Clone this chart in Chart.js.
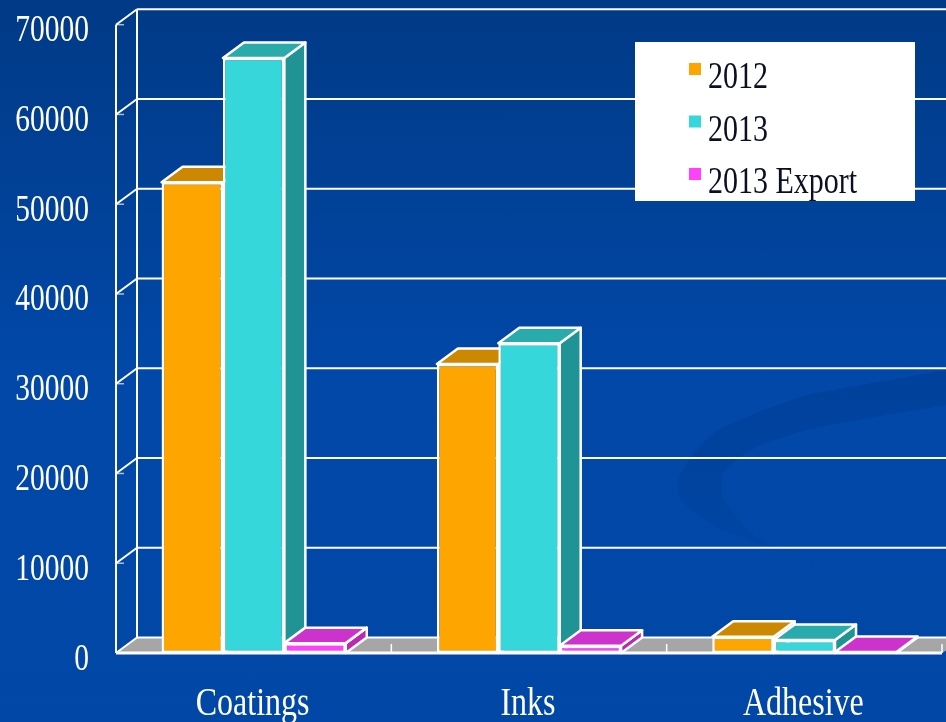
<!DOCTYPE html>
<html>
<head>
<meta charset="utf-8">
<title>Coatings, Inks, Adhesive</title>
<script src="https://cdn.jsdelivr.net/npm/chart.js@4"></script>
<style>
    html, body { margin: 0; padding: 0; width: 946px; height: 722px; overflow: hidden; }
    body { background: linear-gradient(to bottom, #013a86 0%, #0148a8 52%, #0047a6 100%); position: relative; }
    #swoosh { position: absolute; left: 0; top: 0; }
    #chart { position: absolute; left: 0; top: 0; }
</style>
</head>
<body>
<svg id="swoosh" width="946" height="722">
    <defs>
        <linearGradient id="fade" x1="0" y1="0" x2="0" y2="1">
            <stop offset="0" stop-color="#00419b"/>
            <stop offset="1" stop-color="#0046a4"/>
        </linearGradient>
    </defs>
    <path fill="url(#fade)" d="M946 370 C880 382 830 390 807 395 C770 407 735 420 713 433 C695 450 680 468 678 483 C678 495 680 500 683 503 C695 515 710 524 723 530 C750 542 775 549 790 553 L840 570 C810 560 790 555 773 547 C755 537 745 528 737 517 C728 506 722 500 722 493 C721 485 722 478 723 473 C730 463 745 453 757 447 C780 437 810 428 840 423 L946 405 Z"/>
</svg>
<canvas id="chart" width="946" height="722"></canvas>
<script>
const categories = ['Coatings', 'Inks', 'Adhesive'];
const seriesNames = ['2012', '2013', '2013 Export'];
const values2012 = [52450, 32200, 1800];
const values2013 = [66300, 34500, 1450];
const valuesExport = [1100, 800, 100];
const yTicks = [0, 10000, 20000, 30000, 40000, 50000, 60000, 70000];

// depth of the fake 3D box, in pixels
const DX = 21;
const DY = 15.5;

const FRONT = ['#ffa500', '#36d7da', '#ff40ff'];
const TOP = ['#cc8800', '#2aabab', '#cc33cc'];
const SIDE = ['#b87a00', '#209494', '#b82bb0'];
const SERIF = '"Liberation Serif", "Times New Roman", serif';

function poly(ctx, pts, fill, stroke, width) {
    ctx.beginPath();
    pts.forEach((p, i) => i ? ctx.lineTo(p[0], p[1]) : ctx.moveTo(p[0], p[1]));
    ctx.closePath();
    if (fill) { ctx.fillStyle = fill; ctx.fill(); }
    if (stroke) { ctx.strokeStyle = stroke; ctx.lineWidth = width; ctx.lineJoin = 'round'; ctx.stroke(); }
}

function line(ctx, x1, y1, x2, y2, color, width) {
    ctx.beginPath();
    ctx.moveTo(x1, y1);
    ctx.lineTo(x2, y2);
    ctx.strokeStyle = color;
    ctx.lineWidth = width;
    ctx.stroke();
}

// the original type is taller than it is wide, so it gets stretched vertically
function tallText(ctx, text, x, baseline, size, align, color) {
    ctx.save();
    ctx.translate(x, baseline);
    ctx.scale(1, 1.25);
    ctx.font = size + 'px ' + SERIF;
    ctx.textAlign = align;
    ctx.textBaseline = 'alphabetic';
    ctx.fillStyle = color;
    ctx.fillText(text, 0, 0);
    ctx.restore();
}

const wallsPlugin = {
    id: 'walls',
    beforeDatasetsDraw(chart) {
        const { ctx, chartArea: area, scales: { x, y } } = chart;
        const base = y.getPixelForValue(0);
        ctx.save();
        // floor, back wall, left wall and gridlines
        poly(ctx, [[area.left, base], [area.left + DX, base - DY], [946 + DX, base - DY], [area.right, base]], '#a6a6a6');
        yTicks.forEach(t => {
            const py = y.getPixelForValue(t);
            line(ctx, area.left + DX, py - DY, 946, py - DY, '#ffffff', 2);
            line(ctx, area.left, py, area.left + DX, py - DY, '#ffffff', 2);
            if (t > 0) line(ctx, area.left, py, area.left + 8, py, 'rgba(255,255,255,0.65)', 1.5);
        });
        line(ctx, area.left, y.getPixelForValue(70000), area.left, base, '#ffffff', 2);
        line(ctx, area.left + DX, y.getPixelForValue(70000) - DY, area.left + DX, base - DY, '#ffffff', 2);
        line(ctx, area.left, base, area.right, base, '#ffffff', 3);
        // little separators between the categories
        categories.forEach((c, i) => {
            const px = x.getPixelForValue(i) + (x.getPixelForValue(1) - x.getPixelForValue(0)) / 2;
            line(ctx, px, base - 9, px, base, '#ffffff', 1.5);
        });
        // bars left to right so each front covers the previous bar's top and side
        chart.data.datasets.forEach((ds, i) => {
            chart.getDatasetMeta(i).data.forEach(bar => {
                const { x: bx, y: by, base: bb, width } = bar.getProps(['x', 'y', 'base', 'width'], true);
                const l = bx - width / 2;
                const r = bx + width / 2;
                poly(ctx, [[r, by], [r + DX, by - DY], [r + DX, bb - DY], [r, bb]], SIDE[i], '#ffffff', 2.5);
                poly(ctx, [[l, by], [l + DX, by - DY], [r + DX, by - DY], [r, by]], TOP[i], '#ffffff', 2.5);
                bar.draw(ctx, area);
            });
        });
        ctx.restore();
    },
    // already drawn above, in the right order
    beforeDatasetDraw() {
        return false;
    },
    afterDatasetsDraw(chart) {
        const { ctx, scales: { x, y } } = chart;
        y.ticks.forEach(t => {
            tallText(ctx, String(t.value), 89, y.getPixelForValue(t.value) + 16.5, 29.5, 'right', '#ffffff');
        });
        categories.forEach((c, i) => {
            tallText(ctx, c, x.getPixelForValue(i) - 1, 715, 32, 'center', '#ffffff');
        });
        ctx.save();
        ctx.fillStyle = '#ffffff';
        ctx.fillRect(635, 42, 280, 159);
        chart.data.datasets.forEach((ds, i) => {
            ctx.fillStyle = ds.backgroundColor;
            ctx.fillRect(689, 63 + i * 52.5, 12, 12);
            tallText(ctx, ds.label, 708, 88 + i * 52.5, 30, 'left', '#0a0f24');
        });
        ctx.restore();
    }
};

new Chart(document.getElementById('chart'), {
    type: 'bar',
    data: {
        labels: categories,
        datasets: [
            { label: seriesNames[0], data: values2012, backgroundColor: FRONT[0] },
            { label: seriesNames[1], data: values2013, backgroundColor: FRONT[1] },
            { label: seriesNames[2], data: valuesExport, backgroundColor: FRONT[2] }
        ]
    },
    options: {
        responsive: false,
        animation: false,
        layout: { padding: { top: 24.7, right: 4 } },
        datasets: {
            bar: {
                categoryPercentage: 0.669,
                barPercentage: 1,
                borderColor: '#ffffff',
                borderWidth: 2.5,
                borderSkipped: false
            }
        },
        plugins: { legend: { display: false }, tooltip: { enabled: false } },
        scales: {
            x: {
                grid: { display: false },
                border: { display: false },
                ticks: { display: false },
                afterFit(scale) { scale.height = 69; }
            },
            y: {
                min: 0,
                max: 70000,
                grid: { display: false, drawTicks: false },
                border: { display: false },
                ticks: { display: false, stepSize: 10000 },
                afterFit(scale) { scale.width = 116; }
            }
        }
    },
    plugins: [wallsPlugin]
});
</script>
</body>
</html>
